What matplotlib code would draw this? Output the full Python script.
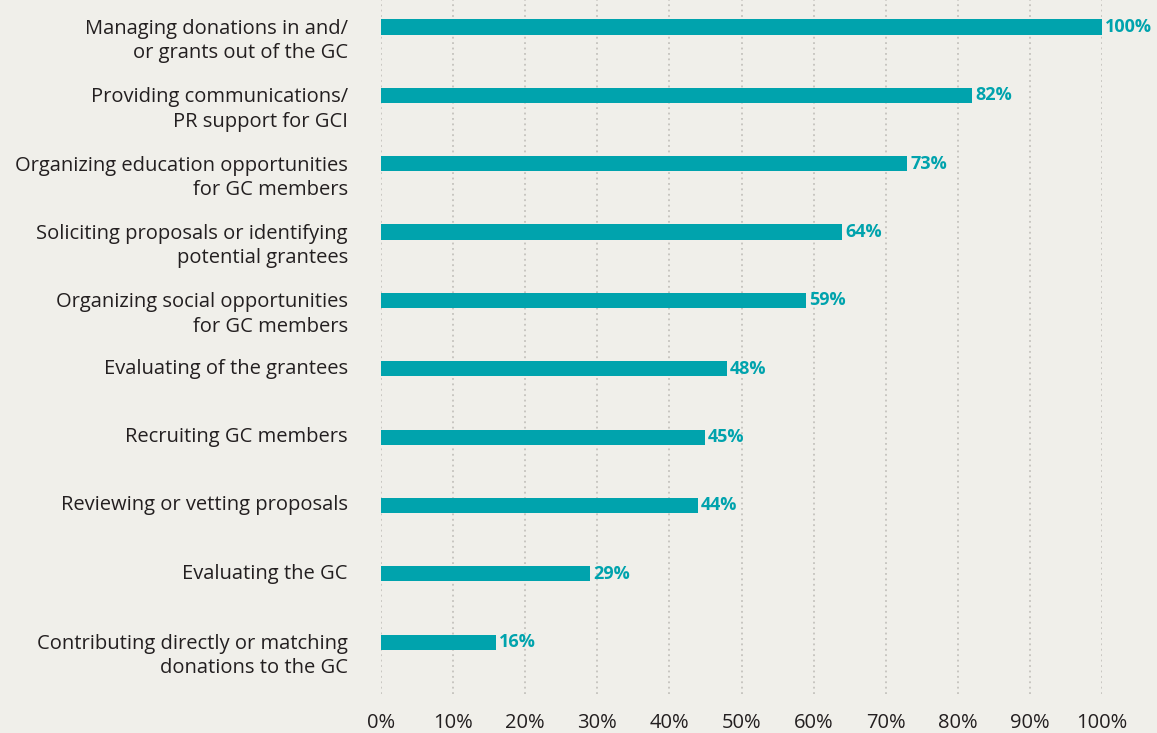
import matplotlib.pyplot as plt
import matplotlib.transforms as mtransforms

# ---------- data -----------------------------------------------------------
categories = [
    "Managing donations in and/\nor grants out of the GC",
    "Providing communications/\nPR support for GCI",
    "Organizing education opportunities\nfor GC members",
    "Soliciting proposals or identifying\npotential grantees",
    "Organizing social opportunities\nfor GC members",
    "Evaluating of the grantees",
    "Recruiting GC members",
    "Reviewing or vetting proposals",
    "Evaluating the GC",
    "Contributing directly or matching\ndonations to the GC",
]
values = [100, 82, 73, 64, 59, 48, 45, 44, 29, 16]
xticks = [0, 10, 20, 30, 40, 50, 60, 70, 80, 90, 100]

# ---------- style ----------------------------------------------------------
BG = "#f0efea"
TEAL = "#00a3ad"
DARK = "#231f20"
plt.rcParams["font.family"] = ["Open Sans", "DejaVu Sans"]

fig = plt.figure(figsize=(11.57, 7.33), dpi=100, facecolor=BG)
ax = fig.add_axes([381 / 1157, 1 - 694 / 733, (1102 - 381) / 1157, 694 / 733])
ax.set_facecolor(BG)

ypos = list(range(len(categories)))
ax.barh(ypos, values, height=0.22, color=TEAL, zorder=3)

ax.set_xlim(0, 100)
ax.set_ylim(9.76, -0.395)

# dotted vertical grid
for t in xticks:
    ax.axvline(t, color="#c4c2bd", linestyle=(0, (1, 2)), linewidth=1.3, zorder=1)

ax.set_xticks(xticks)
ax.set_xticklabels([f"{t}%" for t in xticks], fontsize=14.5, color=DARK)
ax.tick_params(axis="x", length=0, pad=14)
ax.set_yticks([])
for s in ax.spines.values():
    s.set_visible(False)

# category labels: first line level with the bar
label_x = -33 / (1102 - 381) * 100
for y, cat in zip(ypos, categories):
    nlines = cat.count("\n") + 1
    tr = mtransforms.offset_copy(ax.transData, fig=fig, x=0,
                                 y=-(nlines - 1) * 10.2, units="points")
    ax.text(label_x, y, cat, transform=tr, ha="right", va="center",
            fontsize=14.5, fontweight="medium", color=DARK, linespacing=1.3,
            clip_on=False)

# value labels
for y, v in zip(ypos, values):
    ax.annotate(f"{v}%", xy=(v, y), xytext=(2, 0), textcoords="offset points",
                ha="left", va="center", fontsize=13, fontweight="bold",
                color=TEAL, zorder=4, annotation_clip=False)

fig.savefig("out.png", dpi=100, facecolor=BG)
